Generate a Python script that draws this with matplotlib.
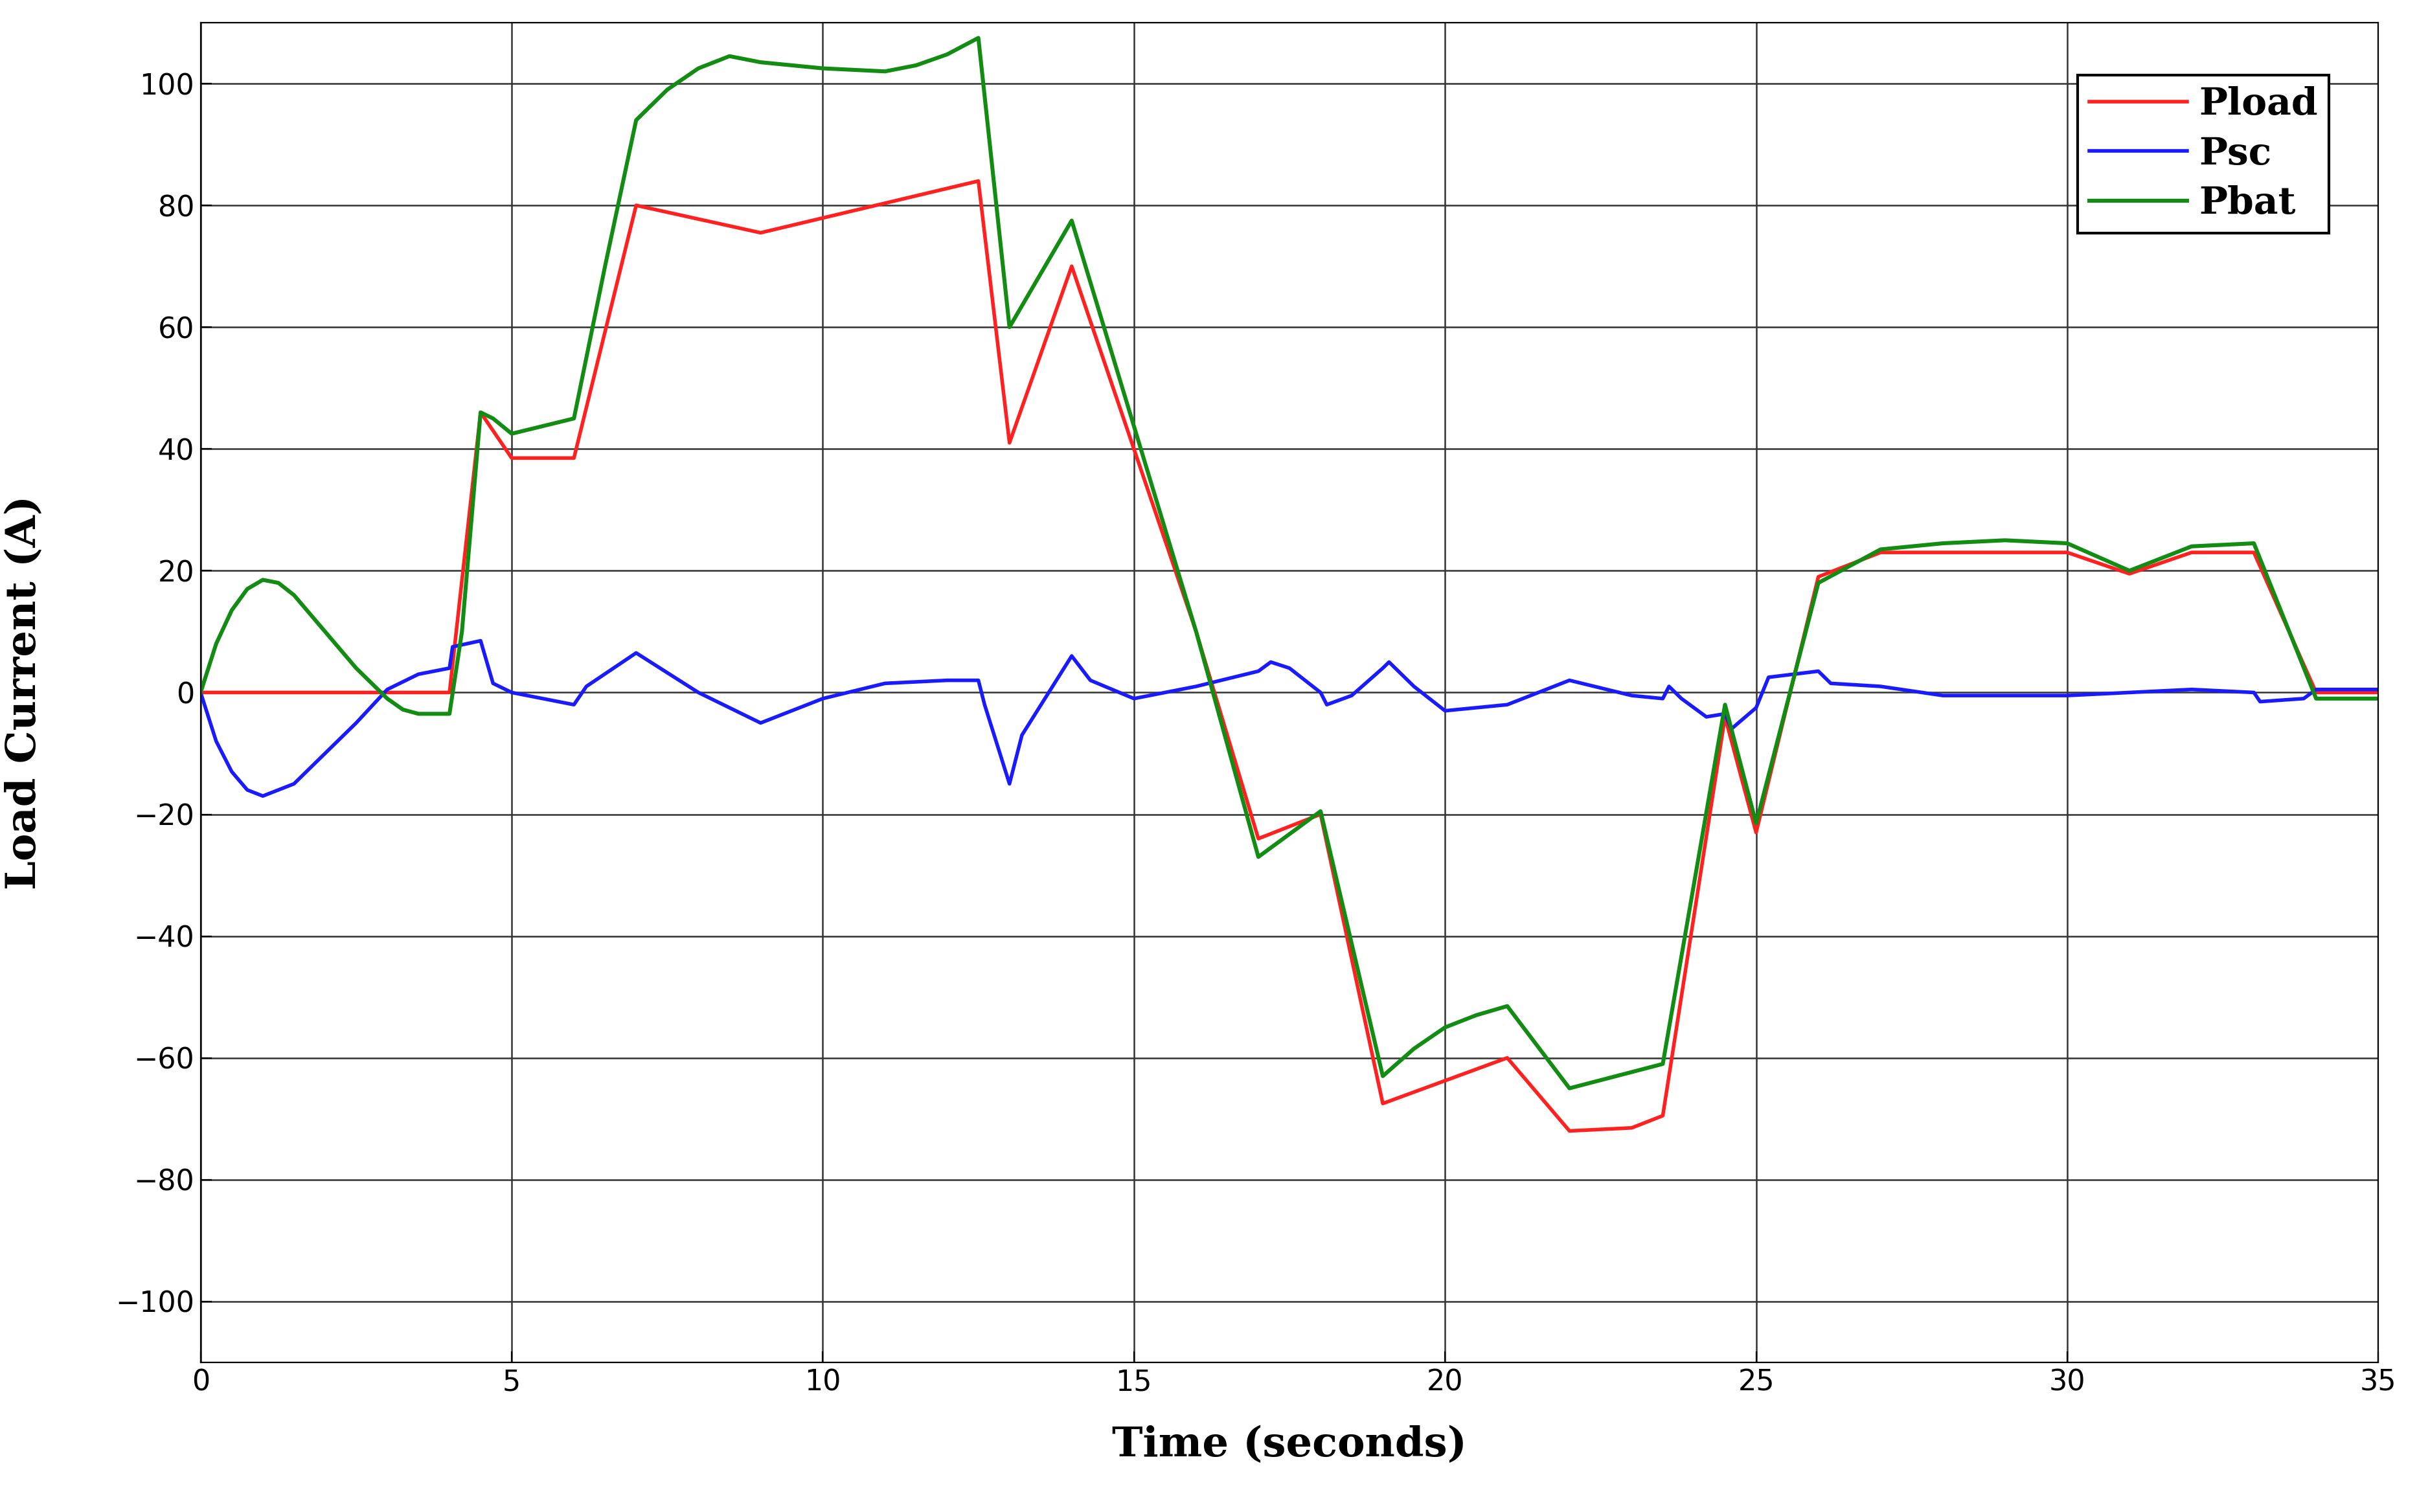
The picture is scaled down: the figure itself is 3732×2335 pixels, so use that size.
import matplotlib
matplotlib.use("Agg")
import matplotlib.pyplot as plt

load_t = [0,4,4.5,5,6,7,9,12.5,13,14,16,17,18,19,21,22,23,23.5,24.5,25,26,27,30,31,32,33,34,35]
load_v = [0,0,46,38.5,38.5,80,75.5,84,41,70,10,-24,-20,-67.5,-60,-72,-71.5,-69.5,-4,-23,19,23,23,19.5,23,23,0,0]

bat_t = [0,0.25,0.5,0.75,1,1.25,1.5,1.75,2,2.25,2.5,2.75,3,3.25,3.5,4,4.2,4.5,4.7,5,6,6.5,7,7.5,8,8.5,9,10,11,11.5,12,12.5,13,14,16,17,18,19,19.5,20,20.5,21,22,23.5,24.5,25,26,27,28,29,30,31,32,33,34,35]
bat_v = [0,8,13.5,17,18.5,18,16,13,10,7,4,1.5,-1,-2.8,-3.5,-3.5,10,46,45,42.5,45,70,94,99,102.5,104.5,103.5,102.5,102,103,104.8,107.5,60,77.5,10,-27,-19.5,-63,-58.5,-55,-53,-51.5,-65,-61,-2,-21.5,18,23.5,24.5,25,24.5,20,24,24.5,-1,-1]

sc_t = [0,0.25,0.5,0.75,1,1.5,2,2.5,3,3.5,4,4.05,4.5,4.7,5,6,6.2,7,8,9,10,11,12,12.5,12.6,13,13.2,14,14.3,15,16,17,17.2,17.5,18,18.1,18.5,19,19.1,19.5,20,21,22,23,23.5,23.6,23.8,24.2,24.5,24.6,25,25.2,26,26.2,27,28,30,32,33,33.1,33.8,34,35]
sc_v = [0,-8,-13,-16,-17,-15,-10,-5,0.5,3,4,7.5,8.5,1.5,0,-2,1,6.5,0,-5,-1,1.5,2,2,-2,-15,-7,6,2,-1,1,3.5,5,4,0,-2,-0.5,4,5,1,-3,-2,2,-0.5,-1,1,-1,-4,-3.5,-6,-2.5,2.5,3.5,1.5,1,-0.5,-0.5,0.5,0,-1.5,-1,0.5,0.5]

fig = plt.figure(figsize=(18.66, 11.675), dpi=200)
ax = fig.add_axes([0.083, 0.099, 0.901, 0.886])
ax.plot(load_t, load_v, color="#ff2020", lw=2, label="Pload")
ax.plot(sc_t, sc_v, color="#1a1aff", lw=2, label="Psc")
ax.plot(bat_t, bat_v, color="#128c12", lw=2.2, label="Pbat")
ax.set_xlim(0, 35)
ax.set_ylim(-110, 110)
ax.set_xticks(range(0, 36, 5))
ax.set_yticks(range(-100, 101, 20))
ax.tick_params(labelsize=16, direction="in", length=6)
ax.grid(True, color="#333333", lw=0.9)
serif = {"family": "DejaVu Serif", "weight": "bold", "size": 23}
ax.set_xlabel("Time (seconds)", fontdict=serif, labelpad=16)
ax.set_ylabel("Load Current (A)", fontdict=serif, labelpad=4)
ax.yaxis.set_label_coords(-0.072, 0.5)
leg = ax.legend(loc="upper right", prop={"family": "DejaVu Serif", "weight": "bold", "size": 21},
                fancybox=False, edgecolor="black", framealpha=1, handlelength=2.6,
                handletextpad=0.3, borderpad=0.3, labelspacing=0.35,
                bbox_to_anchor=(0.986, 0.975))
leg.get_frame().set_linewidth(1.5)
fig.savefig("out.png", dpi=200)
